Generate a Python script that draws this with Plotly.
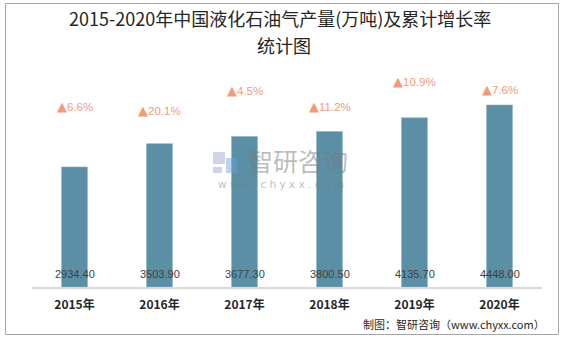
import plotly.graph_objects as go

# 2015-2020 LPG output (10k tonnes) and growth rates
years = ["2015年", "2016年", "2017年", "2018年", "2019年", "2020年"]
output = [2934.40, 3503.90, 3677.30, 3800.50, 4135.70, 4448.00]
growth = ["6.6%", "20.1%", "4.5%", "11.2%", "10.9%", "7.6%"]

# heights (in y-axis units) where the growth markers sit
growth_label_y = [4420, 4320, 4810, 4400, 5030, 4830]

W, H = 564, 337
M_L, M_R, M_T, M_B = 32, 22, 60, 50
PW, PH = W - M_L - M_R, H - M_T - M_B
Y_MAX = 5547.7

BAR = "#5B8FA6"
ORANGE = "#F19B7A"
TXT = "#404040"


def px(x):
    """figure pixel x -> paper coordinate"""
    return (x - M_L) / PW


def py(y):
    """figure pixel y (from top) -> paper coordinate"""
    return (H - M_B - y) / PH


fig = go.Figure()
fig.add_trace(go.Bar(
    x=years, y=output,
    marker=dict(color=BAR, line=dict(color="#8DB3C4", width=0.6)),
    width=0.305,
    hoverinfo="x+y",
))

ann = []
for yr, v in zip(years, output):
    ann.append(dict(x=yr, y=0, xref="x", yref="y", text=f"{v:.2f}",
                    showarrow=False, yanchor="bottom", yshift=5,
                    font=dict(size=11, color=TXT, family="Liberation Sans, Arial")))
for yr, g, gy in zip(years, growth, growth_label_y):
    ann.append(dict(x=yr, y=gy, xref="x", yref="y",
                    text="<span style='font-family:DejaVu Sans;font-size:13px'>▲</span>" + g,
                    showarrow=False, yanchor="middle",
                    font=dict(size=11.5, color=ORANGE, family="Liberation Sans, Arial")))

# title (two lines)
ann.append(dict(x=px(280), y=py(18), xref="paper", yref="paper",
                text="2015-2020年中国液化石油气产量(万吨)及累计增长率",
                showarrow=False, xanchor="center", yanchor="middle",
                font=dict(size=18, color="#262626", family="Noto Sans CJK SC")))
ann.append(dict(x=px(284), y=py(45), xref="paper", yref="paper",
                text="统计图", showarrow=False, xanchor="center", yanchor="middle",
                font=dict(size=18, color="#262626", family="Noto Sans CJK SC")))

# watermark
ann.append(dict(x=px(298), y=py(160), xref="paper", yref="paper",
                text="智研咨询", showarrow=False, xanchor="center", yanchor="middle",
                font=dict(size=25, color="rgba(120,120,120,0.5)", family="Noto Sans CJK SC")))
ann.append(dict(x=px(281), y=py(184), xref="paper", yref="paper",
                text="w w w . c h y x x . c o m", showarrow=False,
                xanchor="center", yanchor="middle",
                font=dict(size=10.5, color="rgba(120,120,120,0.5)", family="DejaVu Sans")))

# source note
ann.append(dict(x=px(547), y=py(324), xref="paper", yref="paper",
                text="制图：智研咨询（www.chyxx.com）", showarrow=False,
                xanchor="right", yanchor="middle",
                font=dict(size=11, color="#262626", family="Noto Sans CJK SC")))

shapes = [
    # outer frame
    dict(type="rect", xref="paper", yref="paper",
         x0=px(5.5), x1=px(558.5), y0=py(334.5), y1=py(3.5),
         line=dict(color="#A6A6A6", width=1)),
    # watermark logo
    dict(type="rect", xref="paper", yref="paper",
         x0=px(213), x1=px(225), y0=py(164), y1=py(152),
         fillcolor="rgba(150,160,200,0.45)", line=dict(width=0)),
    dict(type="rect", xref="paper", yref="paper",
         x0=px(226), x1=px(237), y0=py(173), y1=py(158),
         fillcolor="rgba(100,160,210,0.45)", line=dict(width=0)),
    dict(type="rect", xref="paper", yref="paper",
         x0=px(213), x1=px(222), y0=py(173), y1=py(167),
         fillcolor="rgba(150,160,200,0.45)", line=dict(width=0)),
]

fig.update_layout(
    width=W, height=H,
    margin=dict(l=M_L, r=M_R, t=M_T, b=M_B),
    paper_bgcolor="white", plot_bgcolor="white",
    showlegend=False,
    annotations=ann,
    shapes=shapes,
    xaxis=dict(
        showline=True, linecolor="#D9D9D9", linewidth=2,
        ticks="", showgrid=False,
        tickvals=years, ticktext=[f"<b>{y}</b>" for y in years],
        tickfont=dict(size=12, color="#262626", family="Noto Sans CJK SC"),
        ticklabelstandoff=6,
    ),
    yaxis=dict(range=[0, Y_MAX], visible=False, fixedrange=True),
)

fig.write_html("out.html")
